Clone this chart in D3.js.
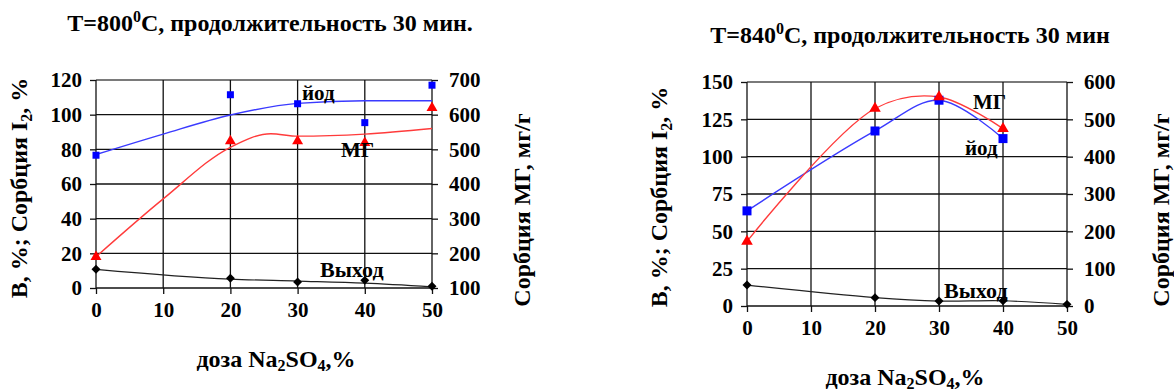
<!DOCTYPE html>
<html><head><meta charset="utf-8">
<script src="https://cdn.jsdelivr.net/npm/d3@7"></script>
<style>html,body{margin:0;padding:0;background:#fff;}</style>
</head>
<body><svg id="c" width="1174" height="392" font-family="Liberation Serif" font-weight="bold"></svg>
<script>
// ---- data ----
const doses = [0, 20, 30, 40, 50];
const xTicks = [0, 10, 20, 30, 40, 50];

// Chart 1: T=800 C
const c1Iodine = [76.6, 111.5, 106.3, 95.4, 117];        // left axis, %
const c1MG = [190, 524, 524, 519, 620];                   // right axis, mg/g
const c1Yield = [10.8, 5.6, 3.5, 4.4, 1.0];               // left axis, %
const c1IodineTrendX = [0, 10, 20, 30, 40, 50];
const c1IodineTrend = [77, 88.8, 99.8, 106.5, 108, 108];
const c1MGTrendX = [0, 10, 20, 26, 30, 40, 50];
const c1MGTrend = [190, 357, 506, 545, 538, 544, 560];
const c1YieldTrendX = [0, 20, 30, 40, 50];
const c1YieldTrend = [10.8, 5.1, 4.0, 2.8, 0.7];
const c1LeftTicks = [0, 20, 40, 60, 80, 100, 120];
const c1RightTicks = [100, 200, 300, 400, 500, 600, 700];

// Chart 2: T=840 C
const c2Doses = [0, 20, 30, 40];
const c2Iodine = [63.7, 117.2, 137.8, 112.1];
const c2MG = [173, 529, 560, 475];
const c2Yield = [14.0, 5.6, 3.3, 3.5, 1.1];
const c2LeftTicks = [0, 25, 50, 75, 100, 125, 150];
const c2RightTicks = [0, 100, 200, 300, 400, 500, 600];

const FONT = "Liberation Serif";
const svg = d3.select("#c");

function txt(sel) {
  return sel.attr("font-family", FONT).attr("font-weight", "bold").attr("fill", "#000");
}

function chart(o) {
  const g = svg.append("g");
  const x = d3.scaleLinear().domain([0, 50]).range([o.x0, o.x1]);
  const yl = d3.scaleLinear().domain(o.lDom).range([o.yB, o.yT]);
  const yr = d3.scaleLinear().domain(o.rDom).range([o.yB, o.yT]);

  // grid
  g.append("g").selectAll("line").data(o.lTicks).join("line")
    .attr("x1", o.x0).attr("x2", o.x1).attr("y1", d => yl(d)).attr("y2", d => yl(d))
    .attr("stroke", (d, i) => i === o.lTicks.length - 1 ? "#7a7a7a" : "#111")
    .attr("stroke-width", (d, i) => i === o.lTicks.length - 1 ? 2 : 1.3);
  g.append("g").selectAll("line").data(xTicks).join("line")
    .attr("x1", d => x(d)).attr("x2", d => x(d)).attr("y1", o.yT).attr("y2", o.yB)
    .attr("stroke", "#111").attr("stroke-width", 1.3);

  // axes
  const ax = g.append("g").attr("transform", `translate(0,${o.yB})`)
    .call(d3.axisBottom(x).tickValues(xTicks).tickSize(6).tickPadding(4));
  const al = g.append("g").attr("transform", `translate(${o.x0},0)`)
    .call(d3.axisLeft(yl).tickValues(o.lTicks).tickSize(6).tickPadding(8));
  const ar = g.append("g").attr("transform", `translate(${o.x1},0)`)
    .call(d3.axisRight(yr).tickValues(o.rTicks).tickSize(6).tickPadding(11));
  [ax, al, ar].forEach(a => {
    a.attr("font-family", FONT).attr("font-size", 21).attr("font-weight", "bold");
    a.select(".domain").remove();
    a.selectAll(".tick line").attr("stroke", "#111").attr("stroke-width", 1.3);
    txt(a.selectAll(".tick text")).attr("font-size", 21);
  });
  ax.selectAll(".tick text").attr("dy", "0.9em");

  // lines
  const mk = (xs, ys, sc, curve) => d3.line().x((d, i) => x(xs[i])).y(d => sc(d)).curve(curve)(ys);
  g.append("path").attr("d", mk(o.iTX, o.iT, yl, o.curve)).attr("fill", "none")
    .attr("stroke", "#3a3aff").attr("stroke-width", 1.4);
  g.append("path").attr("d", mk(o.mTX, o.mT, yr, o.curve)).attr("fill", "none")
    .attr("stroke", "#ff3b3b").attr("stroke-width", 1.4);
  g.append("path").attr("d", mk(o.yTX, o.yTr, yl, o.curve)).attr("fill", "none")
    .attr("stroke", "#222").attr("stroke-width", 1.2);

  // markers
  g.append("g").selectAll("path").data(o.yv).join("path")
    .attr("transform", (d, i) => `translate(${x(doses[i])},${yl(d)}) rotate(45)`)
    .attr("d", d3.symbol(d3.symbolSquare, 40)).attr("fill", "#000");
  g.append("g").selectAll("path").data(o.iv).join("path")
    .attr("transform", (d, i) => `translate(${x(o.ptX[i])},${yl(d)})`)
    .attr("d", d3.symbol(d3.symbolSquare, o.sqSize)).attr("fill", "#0000ff");
  g.append("g").selectAll("path").data(o.mv).join("path")
    .attr("transform", (d, i) => `translate(${x(o.ptX[i])},${yr(d)})`)
    .attr("d", d3.symbol(d3.symbolTriangle, o.trSize)).attr("fill", "#ff0000");

  // series labels
  o.labels.forEach(l => txt(g.append("text")).attr("x", l[1]).attr("y", l[2])
    .attr("font-size", l[3]).text(l[0]));

  // title
  const t = txt(g.append("text")).attr("x", o.title[0]).attr("y", o.title[1])
    .attr("text-anchor", "middle").attr("font-size", 24);
  t.append("tspan").text(o.title[2]);
  t.append("tspan").attr("dy", -9).attr("font-size", 16).text("0");
  t.append("tspan").attr("dy", 9).text(o.title[3]);

  // x title
  const xt = txt(g.append("text")).attr("x", o.xt[0]).attr("y", o.xt[1])
    .attr("text-anchor", "middle").attr("font-size", 24);
  xt.append("tspan").text("доза Na");
  xt.append("tspan").attr("dy", 4).attr("font-size", 16).text("2");
  xt.append("tspan").attr("dy", -4).text("SO");
  xt.append("tspan").attr("dy", 4).attr("font-size", 16).text("4");
  xt.append("tspan").attr("dy", -4).text(",%");

  // left y title
  const lt = txt(g.append("text")).attr("transform", `translate(${o.lt[0]},${o.lt[1]}) rotate(-90)`)
    .attr("text-anchor", "middle").attr("font-size", 24);
  lt.append("tspan").text("В, %;  Сорбция I");
  lt.append("tspan").attr("dy", 5).attr("font-size", 16).text("2");
  lt.append("tspan").attr("dy", -5).text(", %");

  // right y title
  txt(g.append("text")).attr("transform", `translate(${o.rt[0]},${o.rt[1]}) rotate(-90)`)
    .attr("text-anchor", "middle").attr("font-size", 24).text("Сорбция МГ, мг/г");
}

chart({
  x0: 96, x1: 432, yT: 80, yB: 288,
  lDom: [0, 120], rDom: [100, 700], lTicks: c1LeftTicks, rTicks: c1RightTicks,
  curve: d3.curveMonotoneX,
  iTX: c1IodineTrendX, iT: c1IodineTrend, mTX: c1MGTrendX, mT: c1MGTrend,
  yTX: c1YieldTrendX, yTr: c1YieldTrend,
  ptX: doses, iv: c1Iodine, mv: c1MG, yv: c1Yield, sqSize: 49, trSize: 52,
  labels: [["йод", 302, 100, 21], ["МГ", 341, 157, 21], ["Выход", 320, 277, 22]],
  title: [270, 31, "T=800", "C, продолжительность 30 мин."],
  xt: [276, 367], lt: [27, 188], rt: [530, 210]
});

chart({
  x0: 747, x1: 1067, yT: 82, yB: 306,
  lDom: [0, 150], rDom: [0, 600], lTicks: c2LeftTicks, rTicks: c2RightTicks,
  curve: d3.curveCatmullRom,
  iTX: c2Doses, iT: c2Iodine, mTX: c2Doses, mT: c2MG,
  yTX: doses, yTr: c2Yield,
  ptX: c2Doses, iv: c2Iodine, mv: c2MG, yv: c2Yield, sqSize: 81, trSize: 58,
  labels: [["МГ", 973, 109, 21], ["йод", 965, 155, 21], ["Выход", 944, 298, 22]],
  title: [910, 43, "T=840", "C, продолжительность 30 мин"],
  xt: [905, 385], lt: [667, 197], rt: [1169, 210]
});
</script></body></html>
